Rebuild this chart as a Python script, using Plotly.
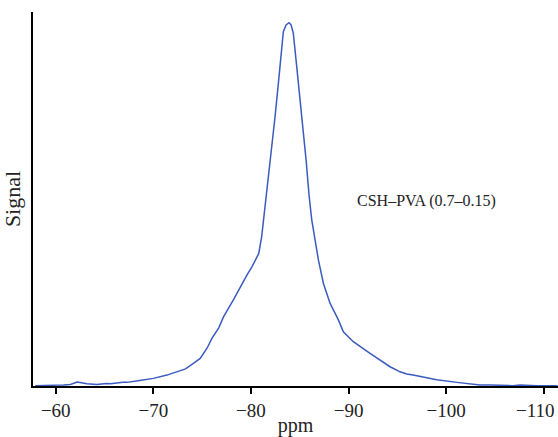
import plotly.graph_objects as go

# === DADOS ===
ppm = [-57.9, -59.4, -60.8, -61.5, -62.2, -63.2, -64.2, -65.2, -65.6, -66.9,
       -67.3, -68.6, -70.0, -71.4, -72.4, -73.3, -74.1, -74.8, -75.5, -76.0,
       -76.7, -77.2, -78.2, -78.9, -79.6, -80.1, -80.8, -81.1, -81.3, -81.65,
       -81.96, -82.26, -82.47, -82.81, -83.16, -83.32, -83.6, -83.9, -84.11, -84.34,
       -84.69, -85.03, -85.27, -85.65, -85.95, -86.23, -86.57, -86.91, -87.42, -88.1,
       -88.96, -89.47, -90.15, -90.49, -92.2, -94.25, -95.28, -95.96, -96.61, -97.66,
       -98.35, -99.04, -101.09, -102.45, -103.47, -104.5, -106.85, -107.57, -109.28, -111.4]
signal = [0.001, 0.001, 0.003, 0.004, 0.011, 0.006, 0.004, 0.007, 0.006, 0.010,
          0.010, 0.015, 0.021, 0.030, 0.039, 0.047, 0.062, 0.076, 0.104, 0.131,
          0.160, 0.191, 0.237, 0.273, 0.306, 0.328, 0.365, 0.411, 0.457, 0.540,
          0.608, 0.691, 0.741, 0.833, 0.925, 0.975, 0.994, 1.000, 0.994, 0.971,
          0.879, 0.787, 0.741, 0.622, 0.526, 0.457, 0.402, 0.347, 0.283, 0.228,
          0.182, 0.149, 0.131, 0.122, 0.090, 0.053, 0.039, 0.033, 0.030, 0.024,
          0.021, 0.017, 0.010, 0.006, 0.003, 0.003, 0.001, 0.003, 0.001, 0.001]
tick_vals = [-60, -70, -80, -90, -100, -110]
tick_text = ["\u221260", "\u221270", "\u221280", "\u221290", "\u2212100", "\u2212110"]
rotulo = "CSH\u2013PVA (0.7\u20130.15)"

fonte = "Liberation Serif"

fig = go.Figure()
fig.add_trace(go.Scatter(
    x=ppm, y=signal, mode="lines",
    line=dict(color="#3a5bbf", width=1.5),
    showlegend=False,
))

fig.add_annotation(
    x=-90.7, y=0.51, text=rotulo, showarrow=False,
    xanchor="left", yanchor="middle",
    font=dict(family=fonte, size=16, color="#222"),
)

# o último rótulo fica colado na borda direita: desenhado à parte, um pouco à esquerda
fig.add_annotation(
    x=tick_vals[-1], y=0, xref="x", yref="paper", text=tick_text[-1],
    showarrow=False, xanchor="right", yanchor="middle",
    xshift=13, yshift=-24,
    font=dict(family=fonte, size=19, color="#222"),
)

fig.update_layout(
    width=558, height=437,
    margin=dict(l=33, r=0, t=12, b=51),
    plot_bgcolor="white", paper_bgcolor="white",
    font=dict(family=fonte, color="#222"),
)
fig.update_xaxes(
    range=[-57.67, -111.46],
    tickvals=tick_vals, ticktext=tick_text[:-1] + [""],
    ticks="outside", ticklen=6, tickwidth=1.5, tickcolor="black",
    tickfont=dict(size=19),
    showline=True, linecolor="black", linewidth=2,
    showgrid=False, zeroline=False, automargin=False,
    title=dict(text="ppm", font=dict(size=20), standoff=0),
)
fig.update_yaxes(
    range=[0, 1.0294],
    showticklabels=False, ticks="",
    showline=True, linecolor="black", linewidth=2,
    showgrid=False, zeroline=False, automargin=False,
    title=dict(text="Signal", font=dict(size=22), standoff=4),
)

# tirar a margem padrão do <body> para a figura caber na janela
fig.write_html("out.html", config={"displayModeBar": False},
               post_script="document.body.style.margin='0';")
